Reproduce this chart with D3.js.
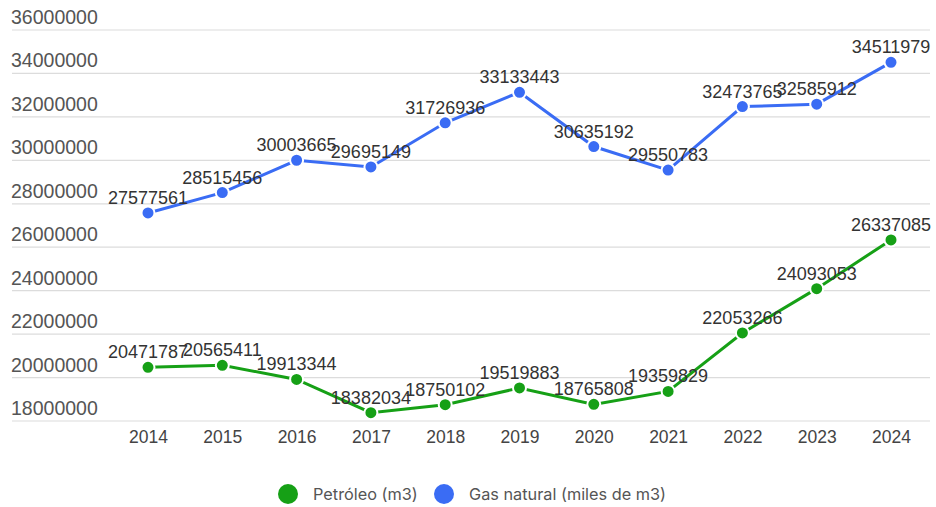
<!DOCTYPE html>
<html><head><meta charset="utf-8">
<script src="https://cdn.jsdelivr.net/npm/d3@7"></script>
<style>body{margin:0;background:#fff;} svg{display:block;}</style>
</head><body>
<svg id="c" width="936" height="507"></svg>
<script>
const years = ["2014","2015","2016","2017","2018","2019","2020","2021","2022","2023","2024"];
const petroleo = [20471787,20565411,19913344,18382034,18750102,19519883,18765808,19359829,22053266,24093053,26337085];
const gas = [27577561,28515456,30003665,29695149,31726936,33133443,30635192,29550783,32473765,32585912,34511979];
const yTicks = [18000000,20000000,22000000,24000000,26000000,28000000,30000000,32000000,34000000,36000000];
const seriesNames = ["Petróleo (m3)","Gas natural (miles de m3)"];
const colors = ["#16a016","#3a6cf4"];

const svg = d3.select("#c");
const font = "Liberation Sans, Arial, sans-serif";
const x = d3.scalePoint().domain(years).range([148, 891]);
const y = d3.scaleLinear().domain([18000000, 36000000]).range([421, 30]);

const grid = svg.append("g");
yTicks.forEach(t => {
  grid.append("line").attr("x1", 12).attr("x2", 930).attr("y1", y(t)).attr("y2", y(t))
    .attr("stroke", "#dcdcdc").attr("stroke-width", 1.2);
  grid.append("text").attr("x", 11).attr("y", y(t) - 6).text(t)
    .attr("font-family", font).attr("font-size", 19.5).attr("fill", "#555");
});

const xAxis = svg.append("g").attr("transform", "translate(0,421)")
  .call(d3.axisBottom(x).tickSize(0).tickPadding(10));
xAxis.select(".domain").remove();
xAxis.selectAll("text").attr("font-family", font).attr("font-size", 17.5).attr("fill", "#444");

const data = [petroleo, gas];
data.forEach((vals, i) => {
  const pts = vals.map((v, j) => ({year: years[j], v}));
  svg.append("path").datum(pts)
    .attr("d", d3.line().x(d => x(d.year)).y(d => y(d.v)))
    .attr("fill", "none").attr("stroke", colors[i]).attr("stroke-width", 3);
  svg.append("g").selectAll("circle").data(pts).join("circle")
    .attr("cx", d => x(d.year)).attr("cy", d => y(d.v)).attr("r", 6.5)
    .attr("fill", colors[i]).attr("stroke", "#fff").attr("stroke-width", 2);
  svg.append("g").selectAll("text").data(pts).join("text")
    .attr("x", d => x(d.year)).attr("y", d => y(d.v) - 9)
    .attr("text-anchor", "middle").text(d => d.v)
    .attr("font-family", font).attr("font-size", 18).attr("fill", "#333");
});

const legend = svg.append("g").attr("transform", "translate(0,494)");
const lx = [288, 444];
seriesNames.forEach((n, i) => {
  legend.append("circle").attr("cx", lx[i]).attr("cy", 0).attr("r", 10).attr("fill", colors[i]);
  legend.append("text").attr("x", lx[i] + 25).attr("y", 6).text(n)
    .attr("font-family", "Inter, sans-serif").attr("font-size", 16.3).attr("fill", "#555");
});
</script>
</body></html>
